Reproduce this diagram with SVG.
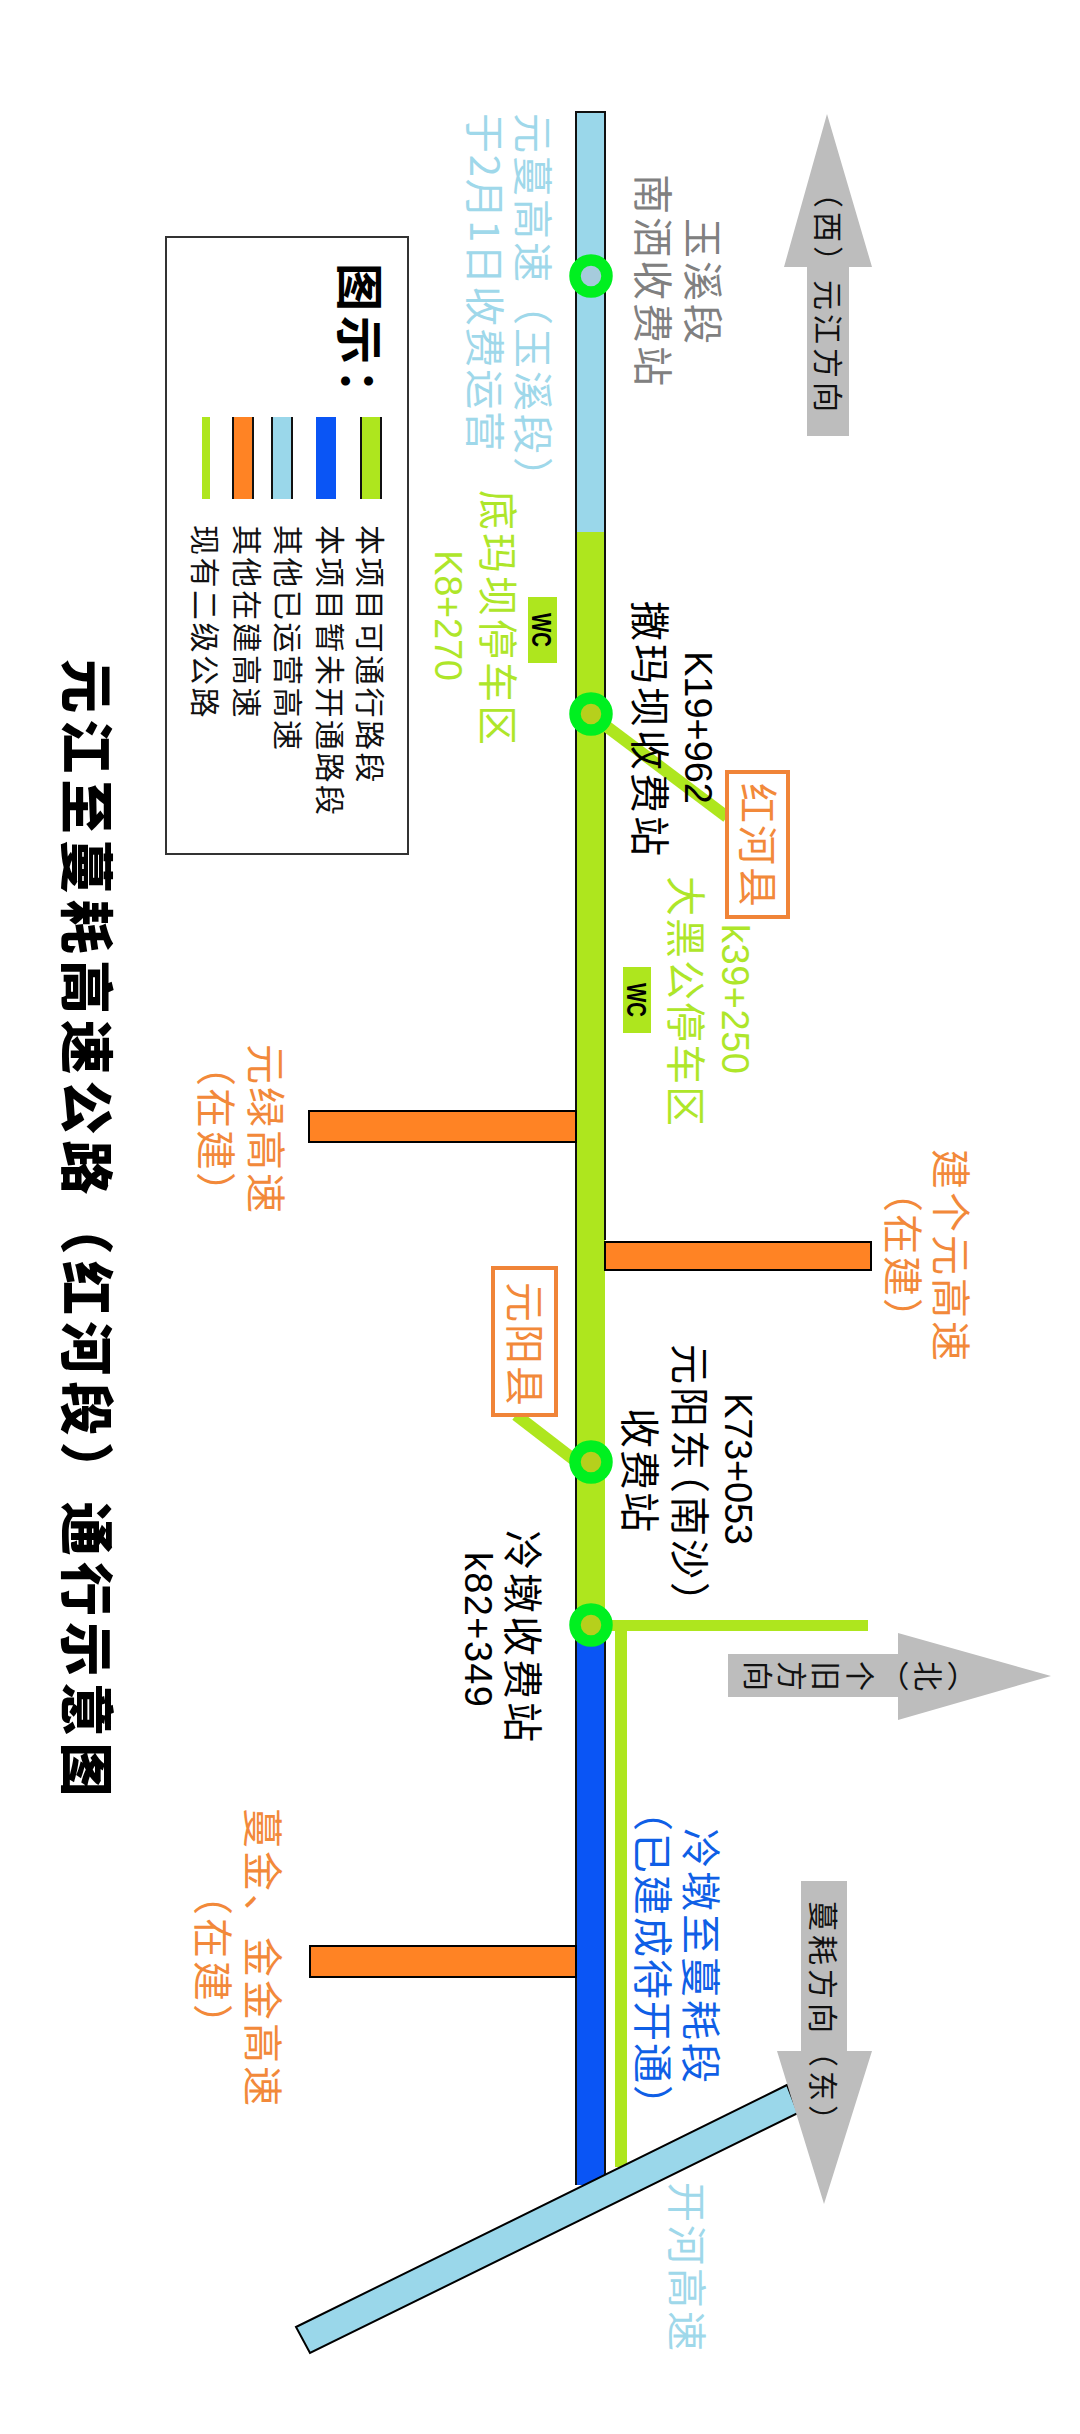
<svg xmlns="http://www.w3.org/2000/svg" width="1080" height="2434" viewBox="0 0 1080 2434">
<style>
text{font-family:"Noto Sans CJK SC","Liberation Sans",sans-serif;font-size:40px;letter-spacing:3px}
.lat{font-family:"Liberation Sans","Noto Sans CJK SC",sans-serif;font-size:38px;letter-spacing:0}
.g{fill:#808080}.lb{fill:#9fd8ea}.gr{fill:#aee62a}.o{fill:#f2893a}.k{fill:#000}.bl{fill:#0f5fe6}
.s2{letter-spacing:2px}
.halt{font-feature-settings:"halt"}
.leg{font-size:30px;fill:#111;letter-spacing:2.5px}.arr{font-size:30px;fill:#111;letter-spacing:4px}
.wc{font-size:27px;font-weight:700;fill:#000;font-family:"Liberation Sans",sans-serif;letter-spacing:0}
.road{stroke:#000;stroke-width:2}
.ring{stroke:#00f020;stroke-width:11.5}
.edge{stroke:#111;stroke-width:2;fill:none}
.tie{stroke:#aee61e;stroke-width:12;fill:none}
.cty{fill:#fff;stroke:#f08438;stroke-width:4}
</style>
<rect width="1080" height="2434" fill="#fff"/>
<g id="connectors">
<rect x="576" y="112" width="29" height="420" fill="#9ad7ea"/>
<rect x="576" y="532" width="29" height="1093" fill="#aee61e"/>
<rect x="576" y="1625" width="29" height="560" fill="#0a55f5"/>
<path class="edge" d="M605 1240V112H576V2185M605 1625V2185"/>
<rect class="road" x="309" y="1111" width="267" height="31" fill="#ff8324"/>
<rect class="road" x="605" y="1242" width="266" height="28" fill="#ff8324"/>
<rect class="road" x="310" y="1946" width="266" height="31" fill="#ff8324"/>
<path class="tie" d="M590 714L727 817"/>
<path class="tie" d="M516 1415L577 1462"/>
<rect x="605" y="1620" width="263" height="11" fill="#aee61e"/>
<rect x="615" y="1625" width="12" height="542" fill="#aee61e"/>
<path class="road" fill="#9ad7ea" d="M296 2327L787 2085L798 2113L310 2353Z"/>
</g>
<g id="arrow-west"><path fill="#bdbdbd" d="M827 114L872 267H849V436H807V267H784Z"/>
<text class="arr" transform="translate(817,178) rotate(90)">（西）元江方向</text></g>
<g id="arrow-north"><path fill="#bdbdbd" d="M1051 1676L898 1720V1697H728V1654H898V1633Z"/>
<text class="arr" writing-mode="vertical-rl" text-anchor="middle" transform="translate(858,1676) rotate(90)">（北）个旧方向</text></g>
<g id="arrow-east"><path fill="#bdbdbd" d="M824 2204L777 2051H801V1881H847V2051H872Z"/>
<text class="arr" transform="translate(812,1901) rotate(90)">蔓耗方向（东）</text></g>
<g id="node-nansa"><circle class="ring" cx="591" cy="276" r="16" fill="#a6cbdc"/>
<text class="g" transform="translate(688,218) rotate(90)">玉溪段</text>
<text class="g" transform="translate(638,174) rotate(90)">南洒收费站</text></g>
<g id="label-yuanman">
<text class="lb" transform="translate(518,113) rotate(90)">元蔓高速（玉溪段）</text>
<text class="lb" transform="translate(470,113) rotate(90)" textLength="341">于2月1日收费运营</text></g>
<g id="node-dima">
<text class="gr" transform="translate(483,490) rotate(90)">底玛坝停车区</text>
<text class="gr lat" transform="translate(435,550) rotate(90)" textLength="131">K8+270</text>
<rect x="528" y="597" width="29" height="66" fill="#aee61e"/>
<text class="wc" transform="translate(532,613) rotate(90)" textLength="34" lengthAdjust="spacingAndGlyphs">WC</text></g>
<g id="node-sama"><circle class="ring" cx="591" cy="714" r="16" fill="#b6d01c"/>
<text class="k" transform="translate(635,601) rotate(90)">撒玛坝收费站</text>
<text class="k lat" transform="translate(685,651) rotate(90)" textLength="153">K19+962</text></g>
<g id="node-honghe"><rect class="cty" x="727" y="772" width="61" height="145"/>
<text class="o s2" transform="translate(743,783) rotate(90)">红河县</text></g>
<g id="node-dahei">
<text class="gr lat" transform="translate(722,924) rotate(90)" textLength="150">k39+250</text>
<text class="gr s2" transform="translate(671,876) rotate(90)">大黑公停车区</text>
<rect x="623" y="967" width="28" height="66" fill="#aee61e"/>
<text class="wc" transform="translate(627,983) rotate(90)" textLength="34" lengthAdjust="spacingAndGlyphs">WC</text></g>
<g id="label-yuanlv">
<text class="o" transform="translate(251,1044) rotate(90)">元绿高速</text>
<text class="o s2" transform="translate(201,1046) rotate(90)">（在建）</text></g>
<g id="label-jiangeyuan">
<text class="o" transform="translate(936,1149) rotate(90)">建个元高速</text>
<text class="o s2" transform="translate(888,1172) rotate(90)">（在建）</text></g>
<g id="node-yuanyang"><rect class="cty" x="493" y="1268" width="63" height="147"/>
<text class="o s2" transform="translate(510,1282) rotate(90)">元阳县</text></g>
<g id="node-yydong"><circle class="ring" cx="591" cy="1462" r="16" fill="#b6d01c"/>
<text class="k lat" transform="translate(725,1393) rotate(90)" textLength="152">K73+053</text>
<text class="k halt" transform="translate(675,1344) rotate(90)">元阳东（南沙）</text>
<text class="k s2" transform="translate(625,1408) rotate(90)">收费站</text></g>
<g id="node-lengdun"><circle class="ring" cx="591" cy="1625" r="16" fill="#b6d01c"/>
<text class="k" transform="translate(508,1530) rotate(90)">冷墩收费站</text>
<text class="k lat" transform="translate(465,1552) rotate(90)" textLength="155">k82+349</text></g>
<g id="label-lengdun-manhao">
<text class="bl" transform="translate(686,1828) rotate(90)">冷墩至蔓耗段</text>
<text class="bl s2" transform="translate(638,1791) rotate(90)">（已建成待开通）</text></g>
<g id="label-manjin">
<text class="o" transform="translate(248,1808) rotate(90)">蔓金、金金高速</text>
<text class="o" transform="translate(198,1875) rotate(90)">（在建）</text></g>
<text id="label-kaihe" class="lb" transform="translate(672,2182) rotate(90)">开河高速</text>
<g id="legend">
<rect x="166" y="237" width="242" height="617" fill="#fff" stroke="#333" stroke-width="2"/>
<text style="font-size:48px;font-weight:700;letter-spacing:5px" transform="translate(342,263) rotate(90)">图示：</text>
<rect x="361" y="417" width="20" height="82" fill="#aee61e"/><path class="edge" d="M361 417V499M381 417V499"/>
<rect x="316" y="417" width="20" height="82" fill="#0a55f5"/>
<rect x="272" y="417" width="20" height="82" fill="#9ad7ea"/><path class="edge" d="M272 417V499M292 417V499"/>
<rect x="233" y="417" width="20" height="82" fill="#ff8324"/><path class="edge" d="M233 417V499M253 417V499"/>
<rect x="202" y="417" width="8" height="82" fill="#aee61e"/>
<text class="leg" transform="translate(359,525) rotate(90)">本项目可通行路段</text>
<text class="leg" transform="translate(319,525) rotate(90)">本项目暂未开通路段</text>
<text class="leg" transform="translate(277,525) rotate(90)">其他已运营高速</text>
<text class="leg" transform="translate(236,525) rotate(90)">其他在建高速</text>
<text class="leg" transform="translate(194,525) rotate(90)">现有二级公路</text>
</g>
<text id="title" style="font-size:54px;font-weight:900;letter-spacing:6.2px" fill="#000" transform="translate(66,659) rotate(90)">元江至蔓耗高速公路（红河段）通行示意图</text>
</svg>
